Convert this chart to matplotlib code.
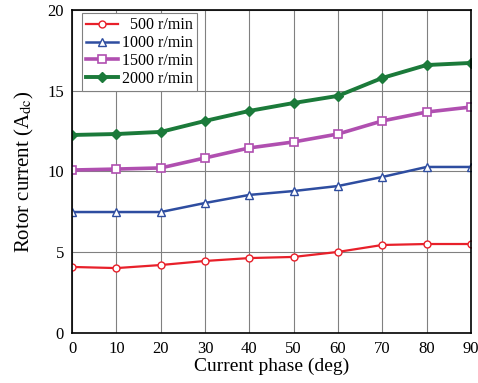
import matplotlib
matplotlib.use("Agg")
import matplotlib.pyplot as plt

plt.rcParams["font.family"] = ["Liberation Serif", "DejaVu Serif"]
plt.rcParams["mathtext.fontset"] = "stix"

phase = [0, 10, 20, 30, 40, 50, 60, 70, 80, 90]
i_500 = [4.09, 4.02, 4.21, 4.46, 4.64, 4.71, 5.02, 5.45, 5.51, 5.51]
i_1000 = [7.49, 7.49, 7.49, 8.05, 8.55, 8.79, 9.10, 9.66, 10.28, 10.28]
i_1500 = [10.09, 10.15, 10.22, 10.84, 11.46, 11.83, 12.32, 13.13, 13.68, 13.99]
i_2000 = [12.26, 12.32, 12.45, 13.13, 13.75, 14.24, 14.68, 15.79, 16.59, 16.72]

fig = plt.figure(figsize=(4.78, 3.83), dpi=100, facecolor="white")
ax = fig.add_axes([0.151, 0.1305, 0.834, 0.8435])

ax.plot(phase, i_500, color="#e8202a", lw=1.6, marker="o", ms=5,
        mfc="white", mec="#e8202a", mew=1.0, label="  500 r/min")
ax.plot(phase, i_1000, color="#2e4da0", lw=1.8, marker="^", ms=6,
        mfc="white", mec="#2e4da0", mew=1.0, label="1000 r/min")
ax.plot(phase, i_1500, color="#b04fb0", lw=2.6, marker="s", ms=5.5,
        mfc="white", mec="#b04fb0", mew=1.2, label="1500 r/min")
ax.plot(phase, i_2000, color="#1b7a3a", lw=2.8, marker="D", ms=5.5,
        mfc="#1b7a3a", mec="#1b7a3a", label="2000 r/min")

ax.set_xlim(0, 90)
ax.set_ylim(0, 20)
ax.set_xticks(phase)
ax.set_yticks([0, 5, 10, 15, 20])
ax.grid(True, color="#808080", lw=0.8)
ax.set_axisbelow(True)
ax.tick_params(length=0, labelsize=12, pad=6)
for s in ax.spines.values():
    s.set_linewidth(1.2)

ax.set_xlabel("Current phase (deg)", fontsize=14, labelpad=0)
ax.set_ylabel(r"Rotor current (A$_{\rm dc}$)", fontsize=15, labelpad=8)

leg = ax.legend(loc="upper left", bbox_to_anchor=(0.025, 0.99), fontsize=11.5,
                fancybox=False, framealpha=1, edgecolor="#808080",
                handlelength=2.0, handletextpad=0.25, borderaxespad=0,
                labelspacing=0.12, borderpad=0.25)
leg.get_frame().set_linewidth(0.8)

fig.savefig("out.png", dpi=100)
